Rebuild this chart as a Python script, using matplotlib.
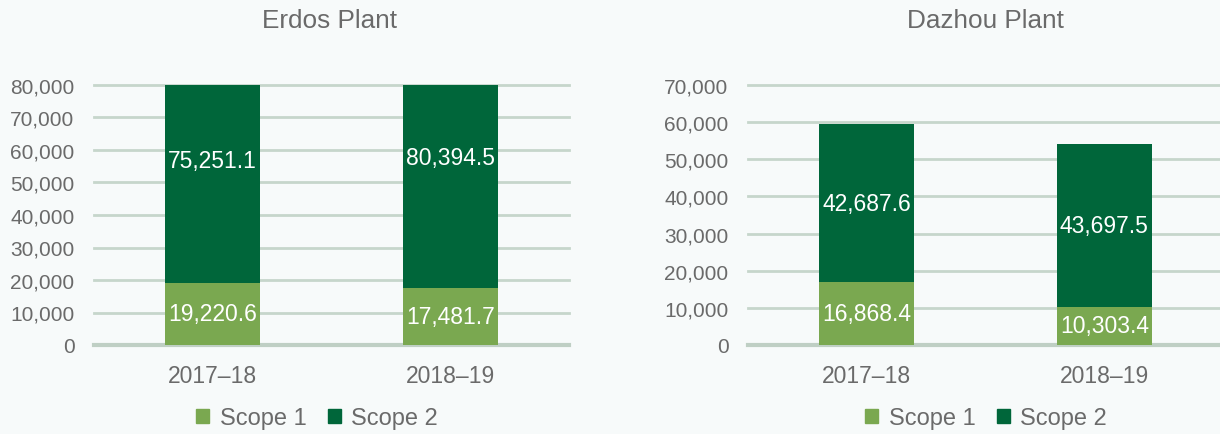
import matplotlib
matplotlib.use("Agg")
import matplotlib.pyplot as plt
from matplotlib.patches import Patch

plt.rcParams['font.family'] = ['Liberation Sans', 'DejaVu Sans']

categories = ["2017–18", "2018–19"]
erdos_scope1 = [19220.6, 17481.7]
erdos_scope2 = [75251.1, 80394.5]
dazhou_scope1 = [16868.4, 10303.4]
dazhou_scope2 = [42687.6, 43697.5]
erdos_ticks = [0, 10000, 20000, 30000, 40000, 50000, 60000, 70000, 80000]
dazhou_ticks = [0, 10000, 20000, 30000, 40000, 50000, 60000, 70000]
series_names = ["Scope 1", "Scope 2"]

C1 = "#7AA850"
C2 = "#00663A"
GRID = "#C6D6CB"
TXT = "#6A6A6A"

W, H = 1220, 435
fig = plt.figure(figsize=(W / 100, H / 100), dpi=100)
fig.patch.set_facecolor("#F7FAFA")


def panel(rect, s1, s2, ticks):
    ax = fig.add_axes(rect)
    ax.set_facecolor("none")
    x = list(range(len(categories)))
    ax.bar(x, s1, width=0.4, color=C1, zorder=3)
    ax.bar(x, s2, width=0.4, bottom=s1, color=C2, zorder=3)
    for xi, a, b in zip(x, s1, s2):
        ax.text(xi, a / 2, f"{a:,.1f}", ha="center", va="center",
                color="white", fontsize=16.5, zorder=4)
        ax.text(xi, a + b / 2, f"{b:,.1f}", ha="center", va="center",
                color="white", fontsize=16.5, zorder=4)
    ax.set_ylim(0, ticks[-1])
    ax.set_xlim(-0.5, 1.5)
    ax.set_yticks(ticks)
    ax.set_yticklabels([f"{t:,}" for t in ticks])
    ax.set_xticks(x)
    ax.set_xticklabels(categories)
    for t in ticks[1:]:
        ax.axhline(t, color=GRID, lw=2, zorder=1, clip_on=False)
    ax.axhline(0, color="#BFCFC4", lw=3, zorder=2, clip_on=False)
    for s in ax.spines.values():
        s.set_visible(False)
    ax.tick_params(axis="both", length=0, colors=TXT)
    ax.tick_params(axis="y", labelsize=15, pad=14)
    ax.tick_params(axis="x", labelsize=16.5, pad=14)
    return ax


ax1 = panel([94 / W, 1 - 346 / H, 475 / W, 260 / H],
            erdos_scope1, erdos_scope2, erdos_ticks)
ax2 = panel([748 / W, 1 - 346 / H, 475 / W, 260 / H],
            dazhou_scope1, dazhou_scope2, dazhou_ticks)

fig.text(330 / W, 1 - 21 / H, "Erdos Plant", ha="center", va="center",
         fontsize=18.8, color=TXT)
fig.text(985 / W, 1 - 21 / H, "Dazhou Plant", ha="center", va="center",
         fontsize=18.8, color=TXT)

handles = [Patch(color=C1, label=series_names[0]),
           Patch(color=C2, label=series_names[1])]
for cx in (317, 986):
    fig.legend(handles=handles, loc="center", bbox_to_anchor=(cx / W, 1 - 419 / H),
               ncol=2, frameon=False, fontsize=17, handlelength=0.55,
               handleheight=0.55, handletextpad=0.45, columnspacing=0.9,
               labelcolor=TXT, borderpad=0, borderaxespad=0)

fig.savefig("out.png", dpi=100, facecolor=fig.get_facecolor())
